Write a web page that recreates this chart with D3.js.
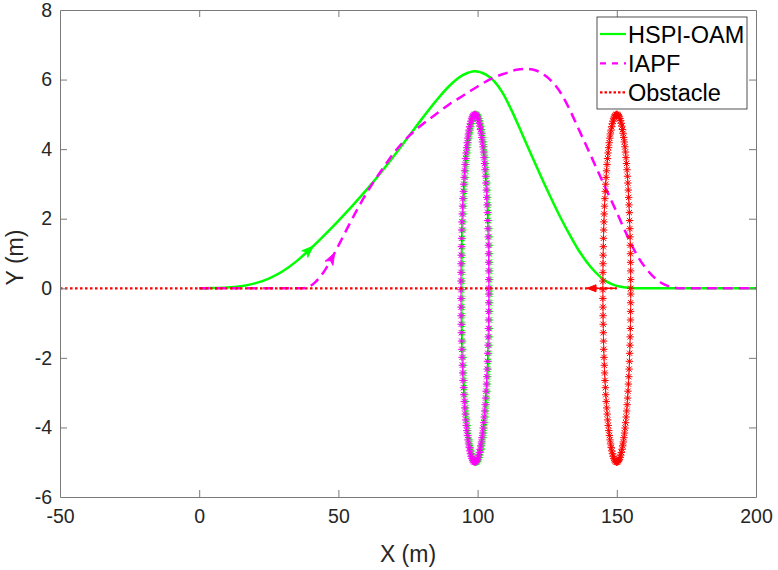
<!DOCTYPE html>
<html>
<head>
<meta charset="utf-8">
<script src="https://cdn.jsdelivr.net/npm/d3@7"></script>
<style>
  html, body { margin: 0; padding: 0; background: #fff; }
  svg { display: block; font-family: "Liberation Sans", Arial, Helvetica, sans-serif; }
</style>
</head>
<body>
<svg id="chart" width="778" height="570"></svg>
<script>
// ---------------- data ----------------
const xTicks = [-50, 0, 50, 100, 150, 200];
const yTicks = [-6, -4, -2, 0, 2, 4, 6, 8];

const hspiX = [0, 5, 10, 15, 20, 25, 30, 35, 40, 45, 50, 55, 60, 65, 70, 75, 80, 85, 90, 95, 99, 103, 106, 109, 112, 115, 118, 121, 124, 127, 130, 133, 136, 139, 142, 145, 148, 151, 155, 158, 170, 200];
const hspiY = [0, 0.005, 0.02, 0.06, 0.14, 0.28, 0.49, 0.78, 1.14, 1.53, 1.94, 2.37, 2.82, 3.3, 3.81, 4.34, 4.87, 5.38, 5.83, 6.14, 6.24, 6.14, 5.95, 5.62, 5.15, 4.62, 4.07, 3.53, 3.0, 2.49, 2.0, 1.55, 1.13, 0.78, 0.49, 0.27, 0.13, 0.05, 0.01, 0, 0, 0];

const iapfX = [0, 37, 38.5, 40, 42, 45, 48, 51, 54, 57, 60, 63, 66, 70, 75, 80, 85, 90, 95, 100, 105, 110, 114, 117.5, 121, 124, 127, 130, 133, 136, 140, 145, 150, 155, 158, 161, 164, 167, 170, 173, 200];
const iapfY = [0, 0, 0.02, 0.07, 0.2, 0.5, 0.92, 1.38, 1.85, 2.3, 2.72, 3.1, 3.45, 3.9, 4.35, 4.7, 5.0, 5.3, 5.55, 5.8, 6.03, 6.18, 6.28, 6.31, 6.26, 6.13, 5.92, 5.6, 5.15, 4.63, 3.93, 3.05, 2.18, 1.3, 0.85, 0.52, 0.27, 0.11, 0.03, 0, 0];

const obstacleX = [-50, 150];
const obstacleY = [0, 0];

// obstacle ellipses: [centerX, centerY, semiX, semiY]
const ellipseHSPI = [99.4, 0, 5, 5];
const ellipseIAPF = [99.0, 0, 5, 5];
const ellipseObst = [150, 0, 5, 5];
const ellipseStep = 0.05; // angular step of the marker sampling (rad)

// direction arrows: index of the data point carrying the arrowhead
const hspiArrowIdx = 8;
const iapfArrowIdx = 6;
// obstacle velocity arrow: from -> to
const obstArrow = [[150, 0], [139.3, 0]];

const legendLabels = ["HSPI-OAM", "IAPF", "Obstacle"];
const colors = { hspi: "#00ff00", iapf: "#ff00ff", obst: "#ff0000" };

// ---------------- layout ----------------
const svg = d3.select("#chart");
const L = 60, R = 756, T = 10, B = 497;
const x = d3.scaleLinear().domain([-50, 200]).range([L, R]);
const y = d3.scaleLinear().domain([-6, 8]).range([B, T]);

svg.append("defs").append("clipPath").attr("id", "clip")
  .append("rect").attr("x", L).attr("y", T).attr("width", R - L).attr("height", B - T);

const plot = svg.append("g").attr("clip-path", "url(#clip)");

const line = d3.line().x(d => x(d[0])).y(d => y(d[1])).curve(d3.curveMonotoneX);
const straight = d3.line().x(d => x(d[0])).y(d => y(d[1]));

function ellipsePts(e) {
  const pts = [];
  for (let t = 0; t <= 2 * Math.PI + 1e-9; t += ellipseStep) {
    pts.push([e[0] + e[2] * Math.cos(t), e[1] + e[3] * Math.sin(t)]);
  }
  return pts;
}
function starPath(s) {
  const d = s * 0.72;
  return `M${-s},0L${s},0M0,${-s}L0,${s}M${-d},${-d}L${d},${d}M${-d},${d}L${d},${-d}`;
}
function drawEllipse(e, color) {
  const pts = ellipsePts(e);
  plot.append("path").attr("d", straight(pts.concat([pts[0]])))
    .attr("fill", "none").attr("stroke", color).attr("stroke-width", 0.8);
  plot.append("g").selectAll("path").data(pts).join("path")
    .attr("transform", d => `translate(${x(d[0])},${y(d[1])})`)
    .attr("d", starPath(3.7))
    .attr("fill", "none").attr("stroke", color).attr("stroke-width", 1);
}
function drawArrowHead(xs, ys, idx, color) {
  const px = x(xs[idx]), py = y(ys[idx]);
  const ax = x(xs[idx - 1]), ay = y(ys[idx - 1]);
  const bx = x(xs[idx + 1]), by = y(ys[idx + 1]);
  const ang = Math.atan2(by - ay, bx - ax) * 180 / Math.PI;
  plot.append("path")
    .attr("transform", `translate(${px},${py}) rotate(${ang})`)
    .attr("d", "M4,0L-8,-4.5L-5,0L-8,4.5Z")
    .attr("fill", color).attr("stroke", color).attr("stroke-width", 0.8);
}

const hspi = hspiX.map((v, i) => [v, hspiY[i]]);
const iapf = iapfX.map((v, i) => [v, iapfY[i]]);
const obst = obstacleX.map((v, i) => [v, obstacleY[i]]);

// HSPI-OAM
plot.append("path").attr("d", line(hspi)).attr("fill", "none")
  .attr("stroke", colors.hspi).attr("stroke-width", 2.5);
drawArrowHead(hspiX, hspiY, hspiArrowIdx, colors.hspi);
drawEllipse(ellipseHSPI, colors.hspi);

// IAPF
plot.append("path").attr("d", line(iapf)).attr("fill", "none")
  .attr("stroke", colors.iapf).attr("stroke-width", 2.5).attr("stroke-dasharray", "10,6");
drawArrowHead(iapfX, iapfY, iapfArrowIdx, colors.iapf);
drawEllipse(ellipseIAPF, colors.iapf);

// Obstacle
plot.append("path").attr("d", straight(obst)).attr("fill", "none")
  .attr("stroke", colors.obst).attr("stroke-width", 2.2).attr("stroke-dasharray", "2.5,2.5");
drawEllipse(ellipseObst, colors.obst);
plot.append("path").attr("d", straight(obstArrow)).attr("fill", "none")
  .attr("stroke", colors.obst).attr("stroke-width", 1.5);
{
  const tx = x(obstArrow[1][0]), ty = y(obstArrow[1][1]);
  const ang = Math.atan2(y(obstArrow[1][1]) - y(obstArrow[0][1]), x(obstArrow[1][0]) - x(obstArrow[0][0])) * 180 / Math.PI;
  plot.append("path").attr("transform", `translate(${tx},${ty}) rotate(${ang})`)
    .attr("d", "M0,0L-9,-3.5L-9,3.5Z").attr("fill", colors.obst)
    .attr("stroke", colors.obst).attr("stroke-width", 1);
}

// ---------------- axes ----------------
const axisColor = "#262626";
const tickFont = "19.5px";
const fmt = d => String(d);
const gB = svg.append("g").attr("transform", `translate(0,${B})`)
  .call(d3.axisBottom(x).tickValues(xTicks).tickFormat(fmt).tickSizeInner(-7).tickSizeOuter(0).tickPadding(12));
const gT = svg.append("g").attr("transform", `translate(0,${T})`)
  .call(d3.axisTop(x).tickValues(xTicks).tickFormat("").tickSizeInner(-7).tickSizeOuter(0));
const gL = svg.append("g").attr("transform", `translate(${L},0)`)
  .call(d3.axisLeft(y).tickValues(yTicks).tickFormat(fmt).tickSizeInner(-7).tickSizeOuter(0).tickPadding(8));
const gR = svg.append("g").attr("transform", `translate(${R},0)`)
  .call(d3.axisRight(y).tickValues(yTicks).tickFormat("").tickSizeInner(-7).tickSizeOuter(0));
[gB, gT, gL, gR].forEach(g => {
  g.select(".domain").attr("stroke", "#7a7a7a").attr("stroke-width", 1);
  g.selectAll(".tick line").attr("stroke", "#7a7a7a").attr("stroke-width", 1);
  g.selectAll("text").attr("fill", axisColor).style("font-size", tickFont)
    .style("font-family", '"Liberation Sans", Arial, sans-serif');
});
[gB, gT].forEach(g => g.selectAll(".tick line").filter(d => d === -50 || d === 200).remove());
[gL, gR].forEach(g => g.selectAll(".tick line").filter(d => d === -6 || d === 8).remove());

svg.append("text").attr("x", (L + R) / 2).attr("y", 562).attr("text-anchor", "middle")
  .attr("fill", axisColor).style("font-size", "23px").text("X (m)");
svg.append("text").attr("transform", `translate(23,${(T + B) / 2 + 4}) rotate(-90)`)
  .attr("text-anchor", "middle").attr("fill", axisColor).style("font-size", "23px").text("Y (m)");

// ---------------- legend ----------------
const lg = svg.append("g");
lg.append("rect").attr("x", 597).attr("y", 17).attr("width", 150).attr("height", 92)
  .attr("fill", "#fff").attr("stroke", "#262626").attr("stroke-width", 0.8);
const legStyles = [
  { c: colors.hspi, dash: null },
  { c: colors.iapf, dash: "6,6" },
  { c: colors.obst, dash: "2.5,2" }
];
const legRows = [34, 63.3, 92.3];
legendLabels.forEach((lab, i) => {
  const cy = legRows[i];
  lg.append("line").attr("x1", 600).attr("x2", 626).attr("y1", cy).attr("y2", cy)
    .attr("stroke", legStyles[i].c).attr("stroke-width", 2.2)
    .attr("stroke-dasharray", legStyles[i].dash);
  lg.append("text").attr("x", 628).attr("y", cy + 9).attr("fill", "#000")
    .style("font-size", "23.5px").text(lab);
});
</script>
</body>
</html>
